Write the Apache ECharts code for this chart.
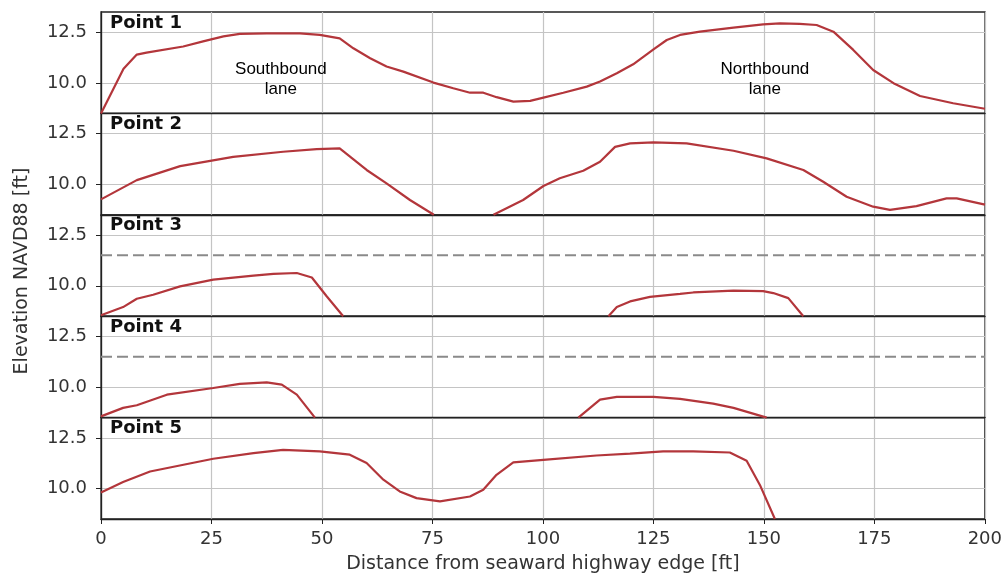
<!DOCTYPE html>
<html>
<head>
<meta charset="utf-8">
<script src="https://cdn.jsdelivr.net/npm/echarts@6/dist/echarts.min.js"></script>
<style>
  html, body { margin: 0; padding: 0; background: #fff; }
  #chart { width: 1005px; height: 578px; }
</style>
</head>
<body>
<div id="chart"></div>
<script>
// Cross-section elevation profiles across the highway at five survey points.
// Distance from the seaward highway edge [ft] and elevation NAVD88 [ft].
// null marks stretches where the profile drops below the plotted range.

const distP1 = [0, 5.1, 8.1, 10.3, 18.6, 23.1, 27.7, 31.4, 37.5, 45, 49.5, 54, 57.1, 60.9, 64.6, 68.4, 75.2, 79.7, 83.5, 86.5, 89.5, 93.3, 97.1, 100.1, 104.6, 109.9, 112.9, 116.7, 120.4, 125, 128, 131, 135.5, 143.1, 149.8, 153.6, 158.1, 161.9, 165.7, 170.2, 174.7, 179.3, 185.3, 192.8, 200];
const elevP1 = [8.5, 10.7, 11.4, 11.5, 11.8, 12.05, 12.3, 12.42, 12.45, 12.45, 12.37, 12.2, 11.71, 11.22, 10.81, 10.56, 10.02, 9.74, 9.52, 9.52, 9.3, 9.08, 9.12, 9.28, 9.52, 9.82, 10.07, 10.48, 10.92, 11.66, 12.12, 12.37, 12.53, 12.73, 12.89, 12.94, 12.91, 12.86, 12.53, 11.63, 10.64, 9.99, 9.36, 9.0, 8.73];

const distP2 = [0, 8.1, 17.9, 29.9, 41.2, 48.8, 54, 60.1, 64.6, 69.9, 75.3, 82, 88.8, 95.5, 100.1, 103.8, 109.1, 112.9, 116.3, 119.7, 125, 132.5, 143.1, 150.6, 158.9, 163.4, 168.7, 174.7, 178.5, 184.5, 191.3, 193.6, 200];
const elevP2 = [9.26, 10.21, 10.9, 11.36, 11.61, 11.74, 11.78, 10.71, 10.05, 9.23, 8.5, null, 8.5, 9.23, 9.92, 10.3, 10.67, 11.12, 11.85, 12.02, 12.07, 12.02, 11.66, 11.28, 10.71, 10.13, 9.39, 8.9, 8.74, 8.93, 9.31, 9.31, 9.0];

const distP3 = [0, 5, 8.1, 11.8, 17.9, 25.4, 34.5, 39, 44.3, 47.7, 51.1, 54.8, 85, 114.8, 116.7, 119.7, 124.2, 131, 134, 143.1, 149.8, 152.1, 155.5, 158.9];
const elevP3 = [8.55, 8.95, 9.36, 9.56, 9.97, 10.3, 10.5, 10.59, 10.63, 10.41, 9.47, 8.5, null, 8.5, 8.95, 9.23, 9.45, 9.6, 9.67, 9.76, 9.74, 9.64, 9.39, 8.5];

const distP4 = [0, 5, 8.1, 14.9, 25.4, 31.4, 37.5, 40.9, 44.3, 48.4, 78, 108, 112.9, 116.7, 125, 131, 138.5, 143.1, 150.6];
const elevP4 = [8.56, 8.98, 9.11, 9.63, 9.96, 10.16, 10.24, 10.13, 9.63, 8.5, null, 8.5, 9.39, 9.52, 9.52, 9.42, 9.19, 8.98, 8.5];

const distP5 = [0, 5, 11.1, 25.4, 34.5, 41.2, 49.5, 56.3, 60.1, 63.9, 67.6, 71.4, 76.7, 83.5, 86.5, 89.5, 93.3, 100.1, 112.1, 119.7, 127.2, 134, 142.3, 146.1, 149.1, 152.5];
const elevP5 = [9.81, 10.32, 10.84, 11.47, 11.75, 11.91, 11.83, 11.67, 11.26, 10.44, 9.86, 9.53, 9.37, 9.61, 9.94, 10.68, 11.29, 11.42, 11.63, 11.72, 11.83, 11.83, 11.78, 11.37, 10.18, 8.5];

const panelTitles = ['Point 1', 'Point 2', 'Point 3', 'Point 4', 'Point 5'];
const profiles = [
  [distP1, elevP1], [distP2, elevP2], [distP3, elevP3], [distP4, elevP4], [distP5, elevP5]
];
// Reference elevation drawn as a dashed line on points 3 and 4
const referenceLevel = 11.5;
const referencePanels = [2, 3];
const yTickValues = [10, 12.5];
const yRange = [8.5, 13.5];
const xRange = [0, 200];
const xTickStep = 25;

// Lane labels on the first panel: [distance, elevation, text]
const laneLabels = [
  [40.7, 10.2, 'Southbound\nlane'],
  [150.2, 10.2, 'Northbound\nlane']
];

const chart = echarts.init(document.getElementById('chart'), null, { renderer: 'canvas' });

const LEFT = 101, RIGHT = 20, TOP = 12, PANEL_H = 101.4;
const frame = '#222';
const gridCol = '#c4c4c4';
const lineCol = '#b3363b';
const font = 'DejaVu Sans';

const grids = [], xAxes = [], yAxes = [], series = [], titles = [];

profiles.forEach(([dist, elev], i) => {
  const top = TOP + i * PANEL_H;
  const last = i === profiles.length - 1;
  grids.push({
    left: LEFT, right: RIGHT, top: top, height: PANEL_H,
    show: true, borderColor: frame, borderWidth: 1.3, backgroundColor: 'transparent'
  });
  xAxes.push({
    gridIndex: i, type: 'value', min: xRange[0], max: xRange[1], interval: xTickStep,
    axisLine: { show: true, onZero: false, lineStyle: { color: frame, width: 1.3 } },
    axisTick: { show: last, inside: false, length: 5, lineStyle: { color: frame } },
    axisLabel: { show: last, margin: 11, fontSize: 18, color: '#333', fontFamily: font },
    splitLine: { show: true, lineStyle: { color: gridCol, width: 1.2 } },
    name: last ? 'Distance from seaward highway edge [ft]' : '',
    nameLocation: 'middle', nameGap: 36,
    nameTextStyle: { fontSize: 19, color: '#333', fontFamily: font }
  });
  yAxes.push({
    gridIndex: i, type: 'value', min: yRange[0], max: yRange[1],
    axisLine: { show: true, onZero: false, lineStyle: { color: frame, width: 1.3 } },
    axisTick: { show: true, inside: false, length: 5, customValues: yTickValues, lineStyle: { color: frame } },
    axisLabel: { show: true, margin: 14, fontSize: 18, color: '#333', fontFamily: font, customValues: yTickValues,
      formatter: v => v.toFixed(1) },
    splitLine: { show: true, lineStyle: { color: gridCol, width: 1.2 } }
  });
  series.push({
    type: 'line', xAxisIndex: i, yAxisIndex: i,
    data: dist.map((d, k) => [d, elev[k]]),
    showSymbol: false, symbol: 'none', connectNulls: false, clip: true,
    lineStyle: { color: lineCol, width: 2.2 }, z: 5, silent: true
  });
  if (referencePanels.includes(i)) {
    series.push({
      type: 'line', xAxisIndex: i, yAxisIndex: i,
      data: [[xRange[0], referenceLevel], [xRange[1], referenceLevel]],
      symbol: 'none', silent: true, z: 4,
      lineStyle: { color: '#8a8a8a', width: 2, type: [11, 5] }
    });
  }
  titles.push({
    text: panelTitles[i], left: 110, top: top + 2, padding: 0,
    textStyle: { fontSize: 18, fontWeight: 'bold', color: '#111', fontFamily: font }
  });
});

series.push({
  type: 'scatter', xAxisIndex: 0, yAxisIndex: 0, symbolSize: 0, silent: true, z: 6,
  data: laneLabels.map(l => ({ value: [l[0], l[1]], label: { formatter: l[2] } })),
  label: {
    show: true, position: 'inside', fontSize: 17, lineHeight: 20, color: '#000',
    fontFamily: 'Liberation Sans', align: 'center'
  },
  itemStyle: { color: '#000', opacity: 1 }
});

chart.setOption({
  animation: false,
  backgroundColor: '#fff',
  title: titles,
  grid: grids,
  xAxis: xAxes,
  yAxis: yAxes,
  series: series,
  graphic: [{
    type: 'text', x: 22, y: 271, rotation: Math.PI / 2,
    style: {
      text: 'Elevation NAVD88 [ft]', fontSize: 19, fill: '#333', fontFamily: font,
      align: 'center', verticalAlign: 'middle'
    }
  }]
});
</script>
</body>
</html>
